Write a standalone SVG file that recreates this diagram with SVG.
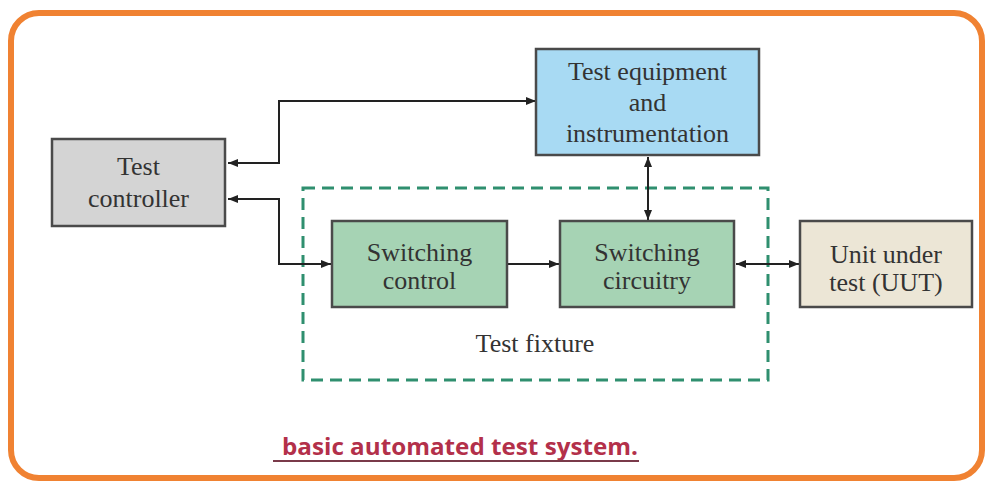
<svg xmlns="http://www.w3.org/2000/svg" width="987" height="482" viewBox="0 0 987 482">
<defs>
<marker id="ah" viewBox="0 0 10 8" refX="10" refY="4" markerWidth="10" markerHeight="8" markerUnits="userSpaceOnUse" orient="auto-start-reverse">
<path d="M0,0 L10,4 L0,8 z" fill="#222"/>
</marker>
<style>
.box{stroke:#4a4a4a;stroke-width:2.5}
.t{font-family:"Liberation Serif","Times New Roman",serif;font-size:26px;fill:#333;text-anchor:middle}
.c{fill:none;stroke:#222;stroke-width:2}
</style>
</defs>
<rect x="0" y="0" width="987" height="482" fill="#ffffff"/>
<rect x="11" y="13" width="971" height="465" rx="28" fill="#ffffff" stroke="#f08232" stroke-width="6"/>
<g id="fixture">
<rect x="303" y="188" width="465" height="192" fill="none" stroke="#2f8f6f" stroke-width="3" stroke-dasharray="12,7"/>
<text class="t" x="535" y="352">Test fixture</text>
</g>
<g id="connectors">
<path class="c" d="M536,101 H279 V163 H228" marker-start="url(#ah)" marker-end="url(#ah)"/>
<path class="c" d="M228,199 H279 V264 H331" marker-start="url(#ah)" marker-end="url(#ah)"/>
<path class="c" d="M508,264 H559" marker-end="url(#ah)"/>
<path class="c" d="M648,157 V220" marker-start="url(#ah)" marker-end="url(#ah)"/>
<path class="c" d="M736,264 H799" marker-start="url(#ah)" marker-end="url(#ah)"/>
</g>
<g id="controller">
<rect class="box" x="52" y="139" width="173" height="87" fill="#d4d4d4"/>
<text class="t" x="138.5" y="175">Test</text>
<text class="t" x="138.5" y="207">controller</text>
</g>
<g id="equipment">
<rect class="box" x="536" y="49" width="223" height="106" fill="#a8daf3" stroke="#3d5563"/>
<text class="t" x="647.5" y="80" fill="#1e3a48">Test equipment</text>
<text class="t" x="647.5" y="111">and</text>
<text class="t" x="647.5" y="142">instrumentation</text>
</g>
<g id="switch_control">
<rect class="box" x="332" y="221" width="175" height="86" fill="#a6d3b4" stroke="#3d5a47"/>
<text class="t" x="419.5" y="261">Switching</text>
<text class="t" x="419.5" y="289">control</text>
</g>
<g id="switch_circuitry">
<rect class="box" x="560" y="221" width="174" height="86" fill="#a6d3b4" stroke="#3d5a47"/>
<text class="t" x="647" y="261">Switching</text>
<text class="t" x="647" y="289">circuitry</text>
</g>
<g id="uut">
<rect class="box" x="800" y="221" width="172" height="86" fill="#ece6d6"/>
<text class="t" x="886" y="263">Unit under</text>
<text class="t" x="886" y="291">test (UUT)</text>
</g>
<g id="caption">
<text x="282" y="455" font-family="'Open Sans','Liberation Sans',sans-serif" font-weight="bold" font-size="23" fill="#b3304a" textLength="356" lengthAdjust="spacingAndGlyphs">basic automated test system.</text>
<line x1="273" y1="461" x2="639" y2="461" stroke="#7a3a4a" stroke-width="2"/>
</g>
</svg>
